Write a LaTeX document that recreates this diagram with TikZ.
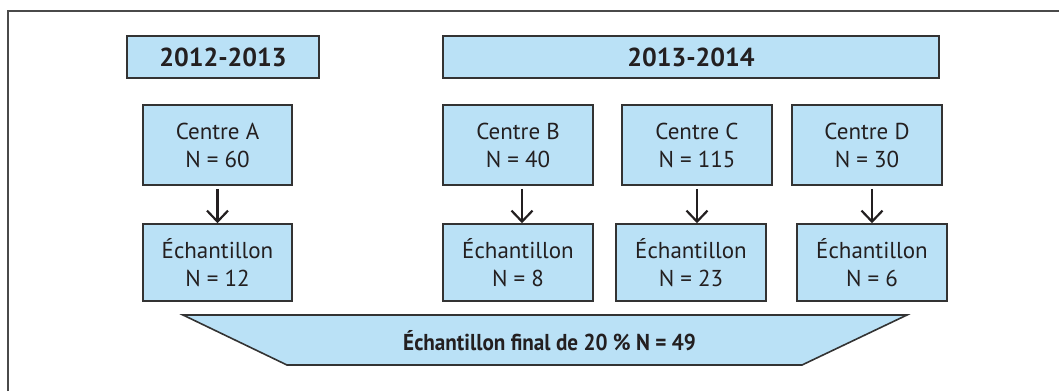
\documentclass[tikz,border=0pt]{standalone}
\usepackage{fontspec}
\setmainfont{PT Sans}
\newfontfamily\condfont[FakeStretch=0.92]{PT Sans}
\usetikzlibrary{arrows.meta}
\definecolor{boxfill}{HTML}{BAE1F6}
\definecolor{boxline}{HTML}{333333}
\definecolor{txt}{HTML}{231F20}
\definecolor{framecol}{HTML}{4A4A4A}
\begin{document}
\begin{tikzpicture}[x=1pt,y=-1pt,
  box/.style={draw=boxline,line width=1.6pt,fill=boxfill,inner sep=0pt,text=txt,align=center,
    font=\fontsize{23}{28}\selectfont},
  hdr/.style={box,font=\fontsize{26}{28}\selectfont\bfseries},
  arr/.style={draw=txt,line width=2.2pt,-{Straight Barb[length=11pt,width=21pt,line width=2.2pt]},shorten <=3pt}]
\useasboundingbox (0,0) rectangle (1059,391);
\draw[line width=1.5pt,draw=framecol] (8,391) -- (8,11) -- (1059,11);

\node[hdr,minimum width=192pt,minimum height=42pt] (h1) at (223,57) {2012-2013};
\node[hdr,minimum width=496pt,minimum height=42pt] (h2) at (691,57) {2013-2014};

\node[box,minimum width=149pt,minimum height=80pt] (cA) at (217.5,145) {Centre A\\N = 60};
\node[box,minimum width=150pt,minimum height=80pt] (cB) at (518,145) {Centre B\\N = 40};
\node[box,minimum width=150pt,minimum height=80pt] (cC) at (697,145) {Centre C\\N = 115};
\node[box,minimum width=150pt,minimum height=80pt] (cD) at (867,145) {Centre D\\N = 30};

\node[box,minimum width=149pt,minimum height=77pt] (sA) at (217.5,262.5) {Échantillon\\N = 12};
\node[box,minimum width=150pt,minimum height=77pt] (sB) at (518,262.5) {Échantillon\\N = 8};
\node[box,minimum width=150pt,minimum height=77pt] (sC) at (691,262.5) {Échantillon\\N = 23};
\node[box,minimum width=150pt,minimum height=77pt] (sD) at (872,262.5) {Échantillon\\N = 6};

\draw[arr] (cA.south) -- (sA.north);
\draw[arr] ([xshift=4pt]cB.south) -- ([xshift=4pt]sB.north);
\draw[arr] (cC.south) -- (cC.south |- sC.north);
\draw[arr] (sD.north |- cD.south) -- (sD.north);

\coordinate (t1) at (183,315);
\coordinate (t2) at (907,315);
\coordinate (t3) at (802,365);
\coordinate (t4) at (287,365);
\draw[draw=boxline,line width=1.6pt,fill=boxfill,line join=miter] (t1) -- (t2) -- (t3) -- (t4) -- cycle;
\node[font=\condfont\bfseries\fontsize{23}{26}\selectfont,text=txt,inner sep=0pt] (fin) at (549.5,341) {Échantillon final de 20~\% N = 49};
\end{tikzpicture}
\end{document}
